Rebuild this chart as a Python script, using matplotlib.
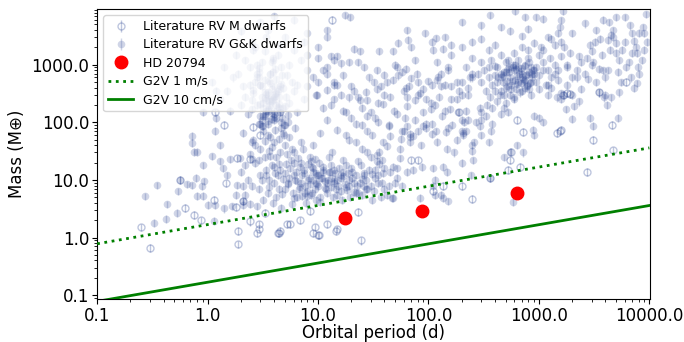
import matplotlib
matplotlib.use("Agg")
import matplotlib.pyplot as plt
from matplotlib.ticker import FormatStrFormatter, NullFormatter
import numpy as np

# ---- G&K dwarfs (period [d], mass [Earth masses]) by region ----
hotjup_period = [3.5, 4.2, 3.0, 2.8, 4.5, 3.9, 3.2, 2.6, 4.8, 3.7, 2.2, 5.5, 3.3, 4.0, 2.9, 4.6, 3.6, 2.4,
                 3.1, 4.3, 2.7, 5.2, 6.0, 3.8, 4.1, 3.4, 2.5, 4.4, 3.0, 5.0, 4.7, 3.5, 2.1, 1.9, 1.5, 6.5,
                 7.5, 3.2, 4.9, 3.7, 2.3, 4.0, 3.3, 3.0, 3.6, 4.2, 2.9, 4.6, 3.9, 2.6, 3.4, 5.8, 4.0, 3.1,
                 2.8, 3.8, 4.4, 3.5, 1.3, 1.1, 5.3, 6.2, 8.0, 9.5, 1.2, 1.6, 2.0, 0.9]
hotjup_mass = [300, 200, 450, 600, 150, 250, 180, 320, 400, 700, 280, 220, 130, 110, 95, 80, 520, 900,
               1100, 1500, 2000, 650, 350, 380, 310, 240, 170, 270, 210, 190, 120, 160, 420, 700, 350, 150,
               250, 85, 60, 55, 140, 140, 330, 130, 230, 560, 760, 900, 1300, 1800, 3000, 500, 420, 270,
               200, 115, 175, 95, 250, 500, 100, 80, 420, 300, 120, 160, 200, 150]

hotjup2_period = [3.1, 3.3, 3.5, 3.7, 3.9, 4.1, 4.3, 4.5, 2.7, 2.9, 3.2, 3.4, 3.6, 3.8, 4.0, 4.2, 4.4, 4.6,
                  3.0, 3.5, 4.0, 4.5, 3.3, 3.7, 4.1, 2.8, 3.9, 4.7, 5.1, 3.2, 3.6, 4.3, 2.6, 3.0, 3.4, 3.8,
                  4.2, 4.6, 5.0, 3.5, 2.5, 3.1, 4.8, 5.4, 3.9, 3.3, 2.9, 4.4, 3.7, 4.0]
hotjup2_mass = [110, 140, 170, 200, 240, 290, 350, 420, 500, 600, 130, 160, 190, 230, 270, 320, 380, 460,
                95, 105, 125, 150, 550, 700, 850, 1000, 1200, 650, 280, 215, 255, 185, 360, 440, 310, 145,
                120, 100, 90, 330, 240, 420, 175, 135, 750, 260, 880, 210, 480, 155]

behind_legend_period = [2.5, 3.5, 5, 6, 7, 8, 9, 10, 6, 4, 12, 14, 8, 3, 1.8, 2, 1.4, 2.2, 3.3, 4.5,
                        5.5, 2.8, 1.7, 1.2, 6.5, 7.5, 3.8, 2.4]
behind_legend_mass = [2500, 4000, 3000, 1800, 1200, 800, 600, 2000, 6000, 7000, 700, 500, 3500, 5500, 1500,
                      3800, 900, 1200, 1700, 2200, 1000, 700, 600, 350, 450, 2500, 1100, 450]

neptune_period = [2.5, 3.0, 3.5, 4.0, 4.5, 5.0, 5.5, 6.0, 6.5, 7.0, 7.5, 8.0, 8.5, 9.0, 9.5, 10, 11, 12,
                  13, 14, 15, 16, 17, 18, 19, 20, 22, 24, 26, 28, 30, 33, 36, 40, 45, 50, 55, 3.2, 3.8,
                  4.2, 4.8, 5.2, 5.8, 6.3, 6.8, 7.3, 7.8, 8.3, 8.8, 9.3, 9.8, 10.5, 11.5, 12.5, 13.5, 14.5,
                  15.5, 16.5, 18.5, 21, 23, 25, 27, 29, 32, 35, 38, 42, 48, 52, 58, 2.2, 2.8, 2.7, 3.3,
                  3.6, 4.4, 4.6, 5.3, 5.6, 6.2, 6.6, 7.1, 7.7, 8.1, 8.6, 9.1, 9.6, 10.2, 10.8, 11.8, 12.8,
                  13.8, 15, 17.5, 19.5, 22, 24.5, 27, 31, 34, 39, 44, 47, 2.9, 3.4, 3.9, 4.3, 5.1, 5.9,
                  6.9, 7.6, 8.4, 9.4, 11.2, 12.2, 14.2, 16.2, 18, 20.5, 26, 37]
neptune_mass = [8, 12, 6, 9, 15, 7, 11, 20, 5, 9, 13, 6.5, 25, 10, 4.5, 8, 14, 6,
                18, 9, 5.5, 12, 22, 7.5, 10, 16, 6, 9, 13, 30, 8, 11, 19, 7, 14, 9, 24, 4.5, 18,
                5, 10.5, 28, 3.8, 14, 7.5, 35, 4, 11, 17, 7, 12, 5, 9.5, 25, 11, 7,
                16, 4.5, 13, 9, 21, 5.5, 10, 15, 6.5, 12, 9, 5.5, 17, 11, 8, 5.5, 3.5, 20, 25,
                10, 7, 3.3, 8.5, 16, 10, 24, 12, 8, 19, 5.5, 14, 9, 20, 11, 7, 14,
                5, 10, 8.5, 5, 12, 18, 7, 4.5, 27, 13, 8, 4.8, 7, 15, 4, 12, 19, 6,
                17, 6, 8.5, 23, 17, 10, 13, 6.5, 18, 11, 8, 5]

neptune2_period = [3.1, 3.6, 4.1, 4.7, 5.4, 6.1, 6.7, 7.4, 8.2, 8.9, 9.7, 10.6, 11.6, 12.7, 13.9, 15.2, 16.8,
                   18.4, 20.2, 22.5, 25, 28, 31, 35, 4.0, 5.0, 6.0, 7.0, 8.0, 9.0, 10, 12, 14, 16, 19, 23,
                   3.4, 4.4, 5.7, 7.2, 9.5, 11, 13, 17, 21, 26, 33, 6.4, 8.7, 10.4]
neptune2_mass = [10, 7.5, 13, 5.8, 9, 12, 7, 15, 10, 6, 8.5, 11, 7.3, 13.5, 9.5, 8, 11.5,
                 6.8, 14, 8, 10.5, 7, 12.5, 9, 17, 13, 4.8, 20, 5.3, 16, 12, 9, 15, 11, 8, 6,
                 12, 19, 22, 5.2, 13, 15, 7.5, 14, 6.3, 12, 15, 9.5, 21, 4.2]

column_period = [3.0, 4.0, 3.5, 4.5, 2.6, 5.0, 3.2, 4.2, 3.8, 2.4, 5.5, 6.0, 4.8, 3.3, 2.9, 4.4, 3.6, 7.0,
                 3.1, 4.1, 2.7, 3.7, 4.9, 5.8]
column_mass = [35, 45, 60, 30, 50, 40, 70, 25, 38, 28, 55, 30, 65, 48, 22, 52, 32, 45,
               85, 75, 40, 26, 90, 34]

short_period = [0.72, 0.72, 0.75, 0.80, 1.17, 1.1, 1.3, 1.38, 1.6, 1.97, 2.5, 0.56, 0.79, 0.65, 0.72, 0.93,
                0.89, 0.35, 0.27, 0.54, 0.80, 0.91, 0.43, 0.53, 1.0, 1.17, 1.4, 1.65, 2.1, 2.1, 2.4, 0.33,
                0.42, 1.14, 2.5, 2.1, 1.85, 2.1, 1.5, 2.0, 1.3, 0.9, 1.8, 2.3, 2.2]
short_mass = [59, 44, 31, 31, 71, 26, 21, 16, 23, 24, 23, 10, 11, 8.4, 8.1, 9.5,
              7.8, 8.1, 5.2, 6.4, 5.3, 5.3, 3.8, 2.7, 3.7, 3.7, 3.2, 3.5, 3.7, 4.3, 3.9, 1.8,
              2.1, 1.96, 46, 66, 8.1, 7.9, 12, 14, 40, 18, 5.5, 10, 18]

warmgiant_period = [17.6, 19.5, 12, 12, 15, 12, 21, 24, 19, 23, 36, 48, 64, 65, 70, 53, 94, 107, 118, 110,
                    135, 52, 58, 63, 34, 40, 48, 70, 80, 122, 37, 90, 107, 130, 64, 19, 23, 28, 15, 10,
                    12, 9.7, 75, 13, 14, 16, 10, 8]
warmgiant_mass = [7200, 6700, 4000, 3000, 1400, 900, 1900, 1700, 1100, 1100, 1700, 1700, 4000, 2700, 2000,
                  2400, 3500, 2500, 2900, 1800, 1900, 900, 760, 850, 800, 670, 550, 580, 500, 620, 420,
                  380, 450, 420, 270, 270, 270, 240, 440, 500, 370, 300, 1200, 1400, 1200, 1050, 1300, 1500]

middle_period = [39, 52, 64, 89, 115, 158, 89, 107, 120, 68, 73, 57, 45, 42, 36, 30, 34, 38, 40, 52, 64,
                 73, 87, 110, 135, 147, 115, 130, 84, 253, 550, 720, 480, 245, 360, 110, 115, 135, 150,
                 580, 48, 250, 20, 25, 30, 18, 22, 28, 35, 45, 60, 75, 150, 200, 180, 220, 300, 250,
                 170, 200, 350, 300, 160]
middle_mass = [205, 140, 190, 150, 200, 170, 87, 63, 46, 63, 58, 52, 58, 39, 31, 25, 21, 22, 16, 16, 14,
               15, 17, 16, 17, 14, 10, 5.5, 4.9, 22, 31, 30, 25, 12, 11, 8, 5.5, 4.9, 4.3,
               4.2, 4.9, 32, 120, 90, 150, 60, 45, 70, 100, 280, 350, 110, 80, 110, 50, 70, 60, 40,
               30, 20, 45, 150, 250]

middle2_period = [11, 14, 17, 21, 26, 32, 40, 50, 62, 78, 96, 120, 150, 190, 240, 13, 18, 25, 33, 44, 58,
                  80, 105, 140, 180, 230, 290]
middle2_mass = [800, 450, 650, 350, 900, 500, 300, 1000, 400, 700, 250, 550, 900, 350, 600, 200, 150, 180,
                120, 90, 70, 300, 220, 160, 250, 300, 180]

middle3_period = [9, 10.5, 12, 13.5, 15, 17, 19, 22, 25, 28, 31, 35, 39, 44, 49, 55, 61, 68, 76, 85, 95,
                  106, 118, 132, 147, 165, 185, 205, 230, 260, 290, 330, 370, 16, 20, 24, 29, 34, 42, 53,
                  66, 83, 100, 125, 160, 200, 250, 11, 14, 27]
middle3_mass = [40, 65, 110, 30, 75, 160, 50, 95, 35, 130, 60, 220, 45, 85, 160, 35, 120, 55, 240, 40, 95,
                170, 70, 130, 35, 90, 150, 60, 110, 45, 85, 130, 70, 300, 420, 240, 600, 380, 500, 650,
                430, 320, 520, 280, 420, 500, 700, 180, 250, 340]

longgiant_period = [360, 610, 750, 950, 1100, 1650, 1600, 1550, 2600, 3300, 3800, 4300, 5000, 6000, 6700,
                    9300, 9000, 4500, 4700, 4200, 5000, 5600, 7000, 8000, 7000, 7800, 3000, 3100, 3500,
                    3800, 2400, 2200, 2800, 4000, 5200, 7900, 7700, 7300, 4500, 5300, 3900, 3500, 4100,
                    5200, 3100, 2900, 2000, 1600, 1700, 2000, 1450, 1600, 2300, 2100, 1750, 1100, 1000,
                    900, 880, 900, 630, 520, 480, 450, 380, 300, 270, 220, 210, 200, 205, 145, 107, 95,
                    80, 64, 60, 68]
longgiant_mass = [7200, 8700, 6700, 6700, 6300, 8700, 5900, 4500, 5200, 4000, 6000, 5500, 6700, 6700, 4800,
                  7500, 3500, 3300, 3000, 2700, 2400, 1800, 3500, 3600, 1600, 1600, 1700, 1100, 850,
                  800, 1100, 800, 560, 600, 760, 930, 480, 400, 270, 330, 270, 330, 200,
                  120, 87, 120, 115, 250, 300, 300, 270, 320, 230, 190, 170, 100, 120,
                  130, 75, 60, 40, 150, 180, 140, 95, 110, 100, 160, 100, 70, 65, 69, 95, 80,
                  70, 85, 70, 46]

longgiant2_period = [1100, 1250, 1400, 1600, 1800, 2000, 2300, 2600, 2900, 3300, 3700, 4200, 4700, 5300,
                     6000, 6800, 7600, 8500, 9500, 1200, 1500, 1900, 2400, 3000, 3600, 4400, 5500, 6500,
                     8000, 9000, 1300, 1700, 2200, 2700, 3200, 4000, 5000, 6200, 7200, 8800]
longgiant2_mass = [1800, 1300, 700, 2500, 1000, 3500, 1400, 700, 2200, 500, 1500, 800, 4000, 1200,
                   2500, 600, 2000, 1200, 2500, 450, 800, 1600, 380, 1000, 2800, 1800, 500, 1100,
                   700, 1800, 2800, 2000, 600, 1300, 2500, 300, 1600, 900, 2600, 4500]

clump_period = [300, 320, 350, 380, 400, 420, 450, 300, 280, 330, 360, 440, 470, 500, 550, 600, 650, 700,
                750, 800, 850, 900, 950, 1000, 1050, 900, 800, 1100, 1200, 1300, 1150, 1000, 850, 700,
                600, 550, 500, 420, 380, 340, 650, 700, 600, 500, 450, 400, 350, 300, 250, 220, 250,
                230, 200, 180, 150, 160, 200, 250, 1400, 1600, 1800, 2000, 1500, 1300, 1200, 1800,
                1400, 1200, 1500, 800, 700, 550, 450, 300, 200, 140, 160, 120, 130, 140, 650, 750,
                820, 950, 480, 520, 560, 620, 780, 430, 470, 510, 540, 580, 610, 690, 400, 370]
clump_mass = [1100, 800, 600, 450, 350, 900, 700, 500, 700, 350, 280, 300, 500, 400, 600, 800, 500, 700,
              1000, 1300, 900, 700, 500, 1500, 2000, 2400, 1800, 1100, 800, 600, 450, 380, 300, 350,
              250, 300, 220, 230, 180, 200, 1200, 2000, 1600, 1100, 1500, 2200, 1800, 2800, 1300, 900, 600,
              400, 300, 500, 800, 1500, 2000, 2500, 1000, 1400, 900, 600, 550, 400, 300, 450,
              2200, 3000, 3500, 4200, 3100, 3900, 4500, 4800, 5500, 3000, 2200, 1100, 700, 450, 900, 550,
              750, 900, 750, 850, 450, 380, 420, 600, 650, 520, 750, 900, 550, 480, 950, 1200]

clump2_period = [420, 460, 500, 540, 580, 620, 660, 700, 740, 780, 820, 860, 900, 450, 510, 570, 630, 690,
                 750, 810, 870, 480, 560, 640, 720, 800, 880, 530, 610, 690, 770, 850, 590, 670, 750, 830,
                 400, 350, 1000, 1100]
clump2_mass = [500, 620, 750, 900, 1000, 850, 700, 600, 520, 440, 380, 600, 800, 350, 420, 520, 640, 780,
               950, 1100, 700, 300, 380, 460, 560, 680, 820, 1200, 1000, 870, 660, 500, 270, 330, 400, 480,
               650, 900, 650, 800]

# ---- M dwarfs ----
mdwarf_period = [1.17, 1.4, 0.56, 0.25, 0.3, 0.62, 0.87, 1.14, 1.47, 1.85, 1.8, 1.9, 1.9, 2.4, 2.9, 2.9, 4.4,
                 3.3, 5.2, 2.1, 2.6, 2.4, 2.8, 4.3, 4.5, 9.4, 10, 10.3, 12, 14.5, 23, 24.5, 80, 70, 110,
                 8.5, 6.9, 5.6, 200, 135, 250, 190, 630, 720, 1450, 1600, 4600, 3100, 4700, 560, 520, 680,
                 360, 2700, 1650, 1800, 1900, 3500, 6200, 1550, 13.4, 15, 9.0, 550, 3.0, 0.75]
mdwarf_mass = [150, 90, 10, 1.5, 0.67, 3.3, 2.0, 4.5, 8.8, 24, 3.4, 1.3, 0.76, 1.9, 1.4, 1.7, 1.2,
               2.7, 1.7, 4.3, 83, 23, 1.2, 1.2, 1.3, 1.5, 1.1, 1.1, 1.7, 1.3, 2.8, 0.89, 22, 22, 6.4,
               2.9, 2.0, 1.7, 8, 8, 4.7, 150, 110, 68, 66, 74, 90, 50, 33, 31, 15, 17,
               11, 14, 300, 320, 310, 330, 510, 70, 6000, 1.4, 1.2, 22, 60, 2.5]

# ---- HD 20794 planets ----
hd_period = [17.5, 88, 630]
hd_mass = [2.2, 2.9, 6.0]

# ---- G2V detection limits (end points) ----
limit_period = [0.1, 10000]
limit_1ms_mass = [0.78, 36]
limit_10cms_mass = [0.078, 3.6]

mass_rel_err = 0.15
blue = "#2a4494"

gk_period = (hotjup_period + hotjup2_period + behind_legend_period + neptune_period + neptune2_period
             + column_period + short_period + warmgiant_period + middle_period + middle2_period
             + middle3_period + longgiant_period + longgiant2_period + clump_period + clump2_period)
gk_mass = (hotjup_mass + hotjup2_mass + behind_legend_mass + neptune_mass + neptune2_mass
           + column_mass + short_mass + warmgiant_mass + middle_mass + middle2_mass
           + middle3_mass + longgiant_mass + longgiant2_mass + clump_mass + clump2_mass)

fig = plt.figure(figsize=(6.84, 3.42), dpi=100)
ax = fig.add_axes([0.142, 0.125, 0.808, 0.849])

mp = np.array(mdwarf_period, float)
mm = np.array(mdwarf_mass, float)
h_m = ax.errorbar(mp, mm, yerr=mm * mass_rel_err, fmt='o', mfc='none', mec=blue, color=blue,
                  ms=5, mew=1, elinewidth=1, alpha=0.3, label='Literature RV M dwarfs', zorder=2)

gp = np.array(gk_period, float)
gm = np.array(gk_mass, float)
h_g = ax.errorbar(gp, gm, yerr=gm * mass_rel_err, fmt='o', color=blue, mec='none',
                  ms=5.5, elinewidth=1, alpha=0.22, label='Literature RV G&K dwarfs', zorder=2)

h_hd, = ax.plot(hd_period, hd_mass, 'o', color='red', ms=9, label='HD 20794', zorder=4)
h_1, = ax.plot(limit_period, limit_1ms_mass, ':', color='green', lw=2, label='G2V 1 m/s', zorder=3)
h_10, = ax.plot(limit_period, limit_10cms_mass, '-', color='green', lw=2, label='G2V 10 cm/s', zorder=3)

ax.set_xscale('log')
ax.set_yscale('log')
ax.set_xlim(0.1, 10100)
ax.set_ylim(0.085, 9300)
for axis in (ax.xaxis, ax.yaxis):
    axis.set_major_formatter(FormatStrFormatter('%.1f'))
    axis.set_minor_formatter(NullFormatter())
ax.tick_params(axis='both', which='major', labelsize=12, pad=2)
ax.set_xlabel('Orbital period (d)', fontsize=12, labelpad=-1)
ax.set_ylabel('Mass (M\u2295)', fontsize=12)

leg = ax.legend(handles=[h_m, h_g, h_hd, h_1, h_10], loc='upper left', fontsize=9,
                framealpha=0.8, borderaxespad=0.5, labelspacing=0.42)
leg.set_zorder(10)

fig.savefig('out.png', dpi=100)
